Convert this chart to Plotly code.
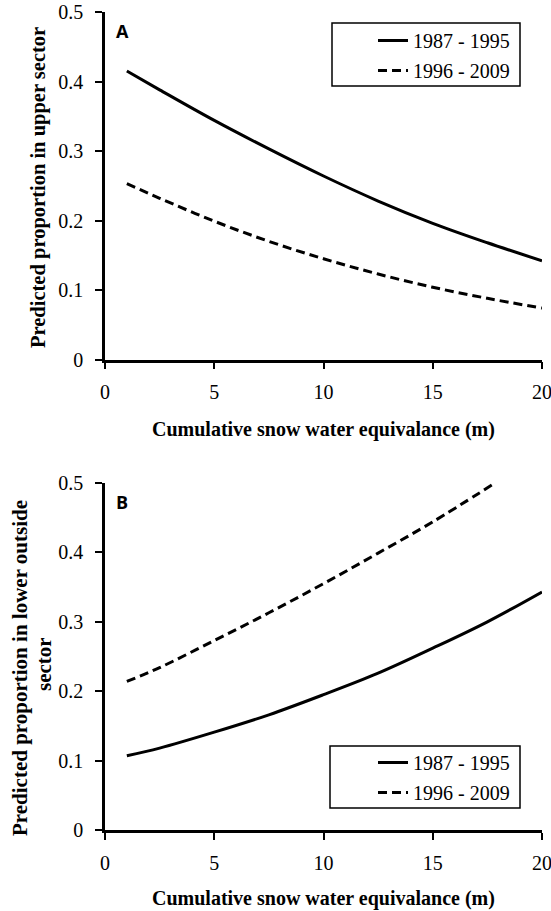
import plotly.graph_objects as go

# ---- data ----
swe = [1, 2.5, 5, 7.5, 10, 12.5, 15, 17.5, 20]
upper_8795 = [0.415, 0.388, 0.344, 0.303, 0.264, 0.228, 0.196, 0.168, 0.142]
upper_9609 = [0.253, 0.232, 0.199, 0.170, 0.145, 0.123, 0.104, 0.088, 0.074]

swe_b_dash = [1, 2.5, 5, 7.5, 10, 12.5, 15, 17.7]
lower_8795 = [0.107, 0.118, 0.141, 0.166, 0.195, 0.226, 0.262, 0.300, 0.343]
lower_9609 = [0.214, 0.234, 0.273, 0.313, 0.355, 0.399, 0.444, 0.497]

series_names = ["1987 - 1995", "1996 - 2009"]
y_ticks = [0, 0.1, 0.2, 0.3, 0.4, 0.5]
y_ticktext = ["0", "0.1", "0.2", "0.3", "0.4", "0.5"]
x_ticks = [0, 5, 10, 15, 20]
x_title = "Cumulative snow water equivalance (m)"
y_title_a = "Predicted proportion in upper sector"
y_title_b1 = "Predicted proportion in lower outside"
y_title_b2 = "sector"

SERIF = "Liberation Serif"
SANS = "Open Sans"

fig = go.Figure()

fig.add_trace(go.Scatter(x=swe, y=upper_8795, mode="lines", name=series_names[0],
                         line=dict(color="black", width=3, shape="spline"),
                         xaxis="x", yaxis="y", legend="legend", legendgroup="a"))
fig.add_trace(go.Scatter(x=swe, y=upper_9609, mode="lines", name=series_names[1],
                         line=dict(color="black", width=3, dash="9px,5px", shape="spline"),
                         xaxis="x", yaxis="y", legend="legend", legendgroup="b"))
fig.add_trace(go.Scatter(x=swe, y=lower_8795, mode="lines", name=series_names[0],
                         line=dict(color="black", width=3, shape="spline"),
                         xaxis="x2", yaxis="y2", legend="legend2", legendgroup="c"))
fig.add_trace(go.Scatter(x=swe_b_dash, y=lower_9609, mode="lines", name=series_names[1],
                         line=dict(color="black", width=3, dash="9px,5px", shape="spline"),
                         xaxis="x2", yaxis="y2", legend="legend2", legendgroup="d"))

axis_common = dict(showline=True, linecolor="black", linewidth=2.5, ticks="outside",
                   ticklen=7, tickwidth=2, tickcolor="black", showgrid=False, zeroline=False,
                   automargin=False, ticklabeloverflow="allow",
                   tickfont=dict(family=SERIF, size=20, color="black"))

xa = dict(axis_common, range=[0, 20], tickvals=x_ticks, ticklabelstandoff=6)
ya = dict(axis_common, range=[0, 0.5], tickvals=y_ticks, ticktext=y_ticktext,
          ticklabelstandoff=8)

W, H = 551, 911
ml, mr, mt, mb = 105, W - 542, 12, H - 830
pw = W - ml - mr
ph = H - mt - mb

def py(p):
    return (H - mb - p) / ph

def px(p):
    return (p - ml) / pw

leg_common = dict(xanchor="left", yanchor="top", borderwidth=0, bgcolor="rgba(0,0,0,0)",
                  font=dict(family=SERIF, size=20, color="black"), tracegroupgap=1)

fig.update_layout(
    width=W, height=H,
    margin=dict(l=ml, r=mr, t=mt, b=mb, autoexpand=False),
    paper_bgcolor="white", plot_bgcolor="white",
    xaxis=dict(xa, domain=[0, 1], anchor="y"),
    yaxis=dict(ya, domain=[py(359.5), 1], anchor="x"),
    xaxis2=dict(xa, domain=[0, 1], anchor="y2"),
    yaxis2=dict(ya, domain=[0, py(483)], anchor="x2"),
    legend=dict(leg_common, x=px(373), y=py(21)),
    legend2=dict(leg_common, x=px(373), y=py(743)),
    showlegend=True,
)

shapes = [
    dict(type="rect", xref="paper", yref="paper", x0=px(332), x1=px(520), y0=py(23), y1=py(86),
         line=dict(color="black", width=1.5), fillcolor="rgba(0,0,0,0)", layer="above"),
    dict(type="rect", xref="paper", yref="paper", x0=px(330), x1=px(520), y0=py(746), y1=py(808),
         line=dict(color="black", width=1.5), fillcolor="rgba(0,0,0,0)", layer="above"),
]

def ann(text, x, y, size, family, angle=0):
    return dict(text=text, x=px(x), y=py(y), xref="paper", yref="paper", showarrow=False,
                xanchor="center", yanchor="middle", textangle=angle,
                font=dict(family=family, size=size, color="black"))

annotations = [
    ann("<b>A</b>", 122, 31, 18, SANS),
    ann("<b>B</b>", 122, 502, 18, SANS),
    ann("<b>" + y_title_a + "</b>", 38, 188, 20.5, SERIF, -90),
    ann("<b>" + y_title_b1 + "</b>", 20, 668, 21, SERIF, -90),
    ann("<b>" + y_title_b2 + "</b>", 44, 664, 21, SERIF, -90),
    ann("<b>" + x_title + "</b>", 323, 429, 20, SERIF),
    ann("<b>" + x_title + "</b>", 323, 898, 20, SERIF),
]
fig.update_layout(annotations=annotations, shapes=shapes)

fig.write_html("out.html", config={"displayModeBar": False},
               post_script="document.body.style.margin='0px';")
